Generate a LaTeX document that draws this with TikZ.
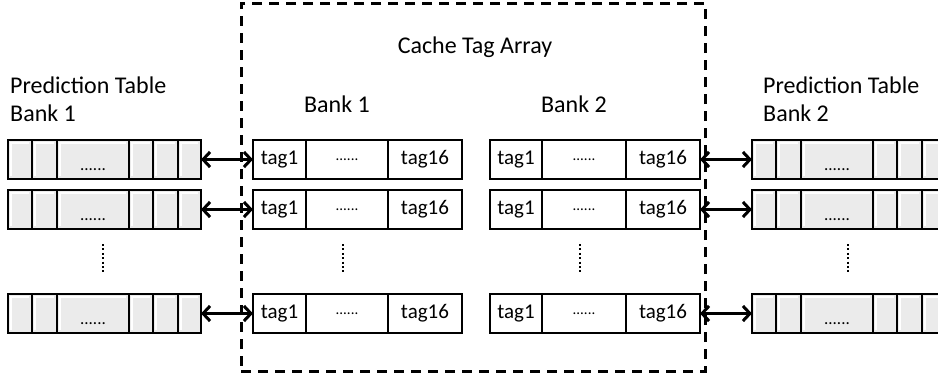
\documentclass[tikz,border=0pt]{standalone}
\usepackage{fontspec}
\setmainfont{Carlito}
\usetikzlibrary{positioning,arrows.meta}

\definecolor{cellgray}{RGB}{235,235,235}

\tikzset{
  pcell/.style={draw, line width=2.4pt, fill=cellgray, minimum height=39pt,
    inner sep=0pt, outer sep=0pt, font=\fontsize{17}{18}\selectfont,
    path picture={
      \draw[white, line width=2pt]
        ([xshift=3pt,yshift=3pt]path picture bounding box.south west)
        -- ([xshift=3pt,yshift=-3pt]path picture bounding box.north west)
        -- ([xshift=-3pt,yshift=-3pt]path picture bounding box.north east);
    }},
  tcell/.style={draw, line width=2.4pt, fill=white, minimum height=39pt,
    inner sep=0pt, outer sep=0pt, font=\fontsize{21}{24}\selectfont},
  lbl/.style={font=\fontsize{24}{28}\selectfont, align=left, inner sep=0pt},
  link/.style={{Straight Barb[length=7pt,width=15pt]}-{Straight Barb[length=7pt,width=15pt]}, line width=3pt},
  vdots/.style={line width=2.2pt, dash pattern=on 2pt off 2.4pt}
}

\begin{document}
\begin{tikzpicture}[x=1pt, y=-1pt]
  \useasboundingbox (0,0) rectangle (938,376);
  \clip (0,0) rectangle (938,376);

  % labels
  \node[lbl] (cta) at (475,47) {Cache Tag Array};
  \node[lbl] (bk1) at (337,104) {Bank 1};
  \node[lbl] (bk2) at (574,104) {Bank 2};
  \node[lbl, anchor=north west] (pt1) at (10,77) {Prediction Table\\Bank 1};
  \node[lbl, anchor=north west] (pt2) at (763,77) {Prediction Table\\Bank 2};

  % dashed frame round the tag array
  \node[draw, line width=3pt, dash pattern=on 10pt off 7pt,
    minimum width=464pt, minimum height=368pt, inner sep=0pt] (frame) at (473,187) {};

  \foreach \r/\y in {1/159.5, 2/209.5, 3/313.5} {
    % prediction table, bank 1
    \node[pcell, minimum width=24pt] (lpa\r) at (20,\y) {};
    \node[pcell, minimum width=25pt, right=0pt of lpa\r] (lpb\r) {};
    \node[pcell, minimum width=72pt, right=0pt of lpb\r, text height=22pt, text depth=0pt] (lpc\r) {......};
    \node[pcell, minimum width=24pt, right=0pt of lpc\r] (lpd\r) {};
    \node[pcell, minimum width=25pt, right=0pt of lpd\r] (lpe\r) {};
    \node[pcell, minimum width=23pt, right=0pt of lpe\r] (lpf\r) {};
    % tag array, bank 1
    \node[tcell, minimum width=53pt] (taa\r) at (279.5,\y) {tag1};
    \node[tcell, minimum width=82pt, right=0pt of taa\r] (tab\r) {\fontsize{15}{16}\selectfont ......};
    \node[tcell, minimum width=74pt, right=0pt of tab\r] (tac\r) {tag16};
    % tag array, bank 2
    \node[tcell, minimum width=52pt] (tba\r) at (516,\y) {tag1};
    \node[tcell, minimum width=84pt, right=0pt of tba\r] (tbb\r) {\fontsize{15}{16}\selectfont ......};
    \node[tcell, minimum width=74pt, right=0pt of tbb\r] (tbc\r) {tag16};
    % prediction table, bank 2
    \node[pcell, minimum width=24pt] (rpa\r) at (764,\y) {};
    \node[pcell, minimum width=25pt, right=0pt of rpa\r] (rpb\r) {};
    \node[pcell, minimum width=72pt, right=0pt of rpb\r, text height=22pt, text depth=0pt] (rpc\r) {......};
    \node[pcell, minimum width=24pt, right=0pt of rpc\r] (rpd\r) {};
    \node[pcell, minimum width=25pt, right=0pt of rpd\r] (rpe\r) {};
    \node[pcell, minimum width=24pt, right=0pt of rpe\r] (rpf\r) {};
    % links
    \draw[link] (lpf\r.east) -- (taa\r.west);
    \draw[link] (tbc\r.east) -- (rpa\r.west);
  }

  % vertical dots between rows
  \foreach \n/\x in {lp/103, ta/343, tb/580, rp/848} {
    \coordinate (\n top) at (\x,244);
    \coordinate (\n bot) at (\x,274);
    \draw[vdots] (\n top) -- (\n bot);
  }
\end{tikzpicture}
\end{document}
